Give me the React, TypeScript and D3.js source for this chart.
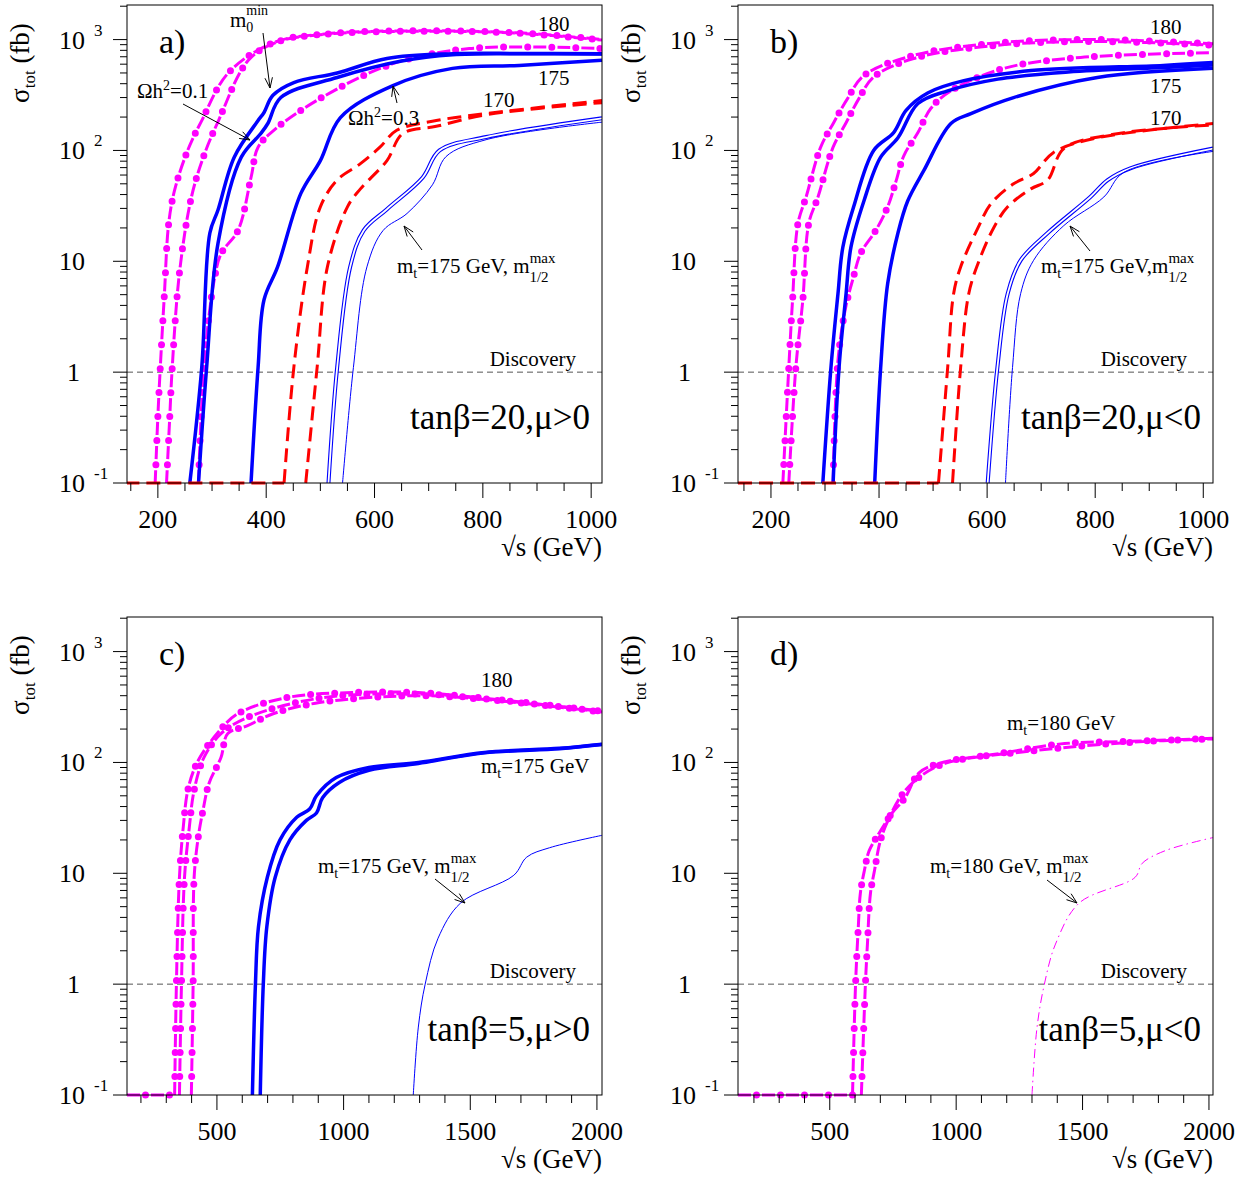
import * as d3 from "d3";

type Pt = [number, number];

// ---- panel a : tanb=20, mu>0 ----
const aMag1: Pt[] = [[195,0.1],[200,0.4],[204,1],[212,5],[220,22],[231,44],[255,100],[281,186],[330,500],[414,940],[513,1130],[683,1200],[867,1150],[1020,1000]];
const aMag2: Pt[] = [[216,0.1],[222,0.4],[226,1],[240,8],[262,38],[285,90],[312,186],[367,650],[420,950],[513,1120],[683,1190],[867,1140],[1020,990]];
const aMag3: Pt[] = [[275,0.1],[286,1.28],[305,7.2],[317,11.8],[348,19],[372,57],[385,107],[414,152],[500,295],[634,606],[775,830],[1020,830]];
const aBlue1: Pt[] = [[259,0.1],[281,1.1],[296,18],[311,29],[341,87],[385,186],[396,220],[412,313],[451,410],[531,500],[623,675],[744,745],[867,750],[1020,745]];
const aBlue2: Pt[] = [[275,0.1],[290,1.1],[311,14.5],[354,87],[390,142],[403,175],[427,300],[531,455],[650,640],[744,730],[867,745],[1020,740]];
const aBlue3: Pt[] = [[372,0.1],[385,1.1],[396,4.5],[421,8.9],[464,41],[500,81],[537,198],[634,385],[744,550],[867,585],[1020,650]];
const aRedBase: Pt[] = [[140,0.1],[433,0.1]];
const aRed1: Pt[] = [[433,0.1],[451,1.1],[476,8.9],[500,31],[531,54],[574,76],[610,107],[641,152],[714,186],[806,215],[1020,282]];
const aRed2: Pt[] = [[473,0.1],[494,1.1],[513,8.9],[550,31],[574,45],[623,81],[652,142],[714,165],[806,210],[1020,270]];
const aThin1: Pt[] = [[515,0.1],[531,1.1],[555,8.9],[580,19],[623,29.5],[689,57],[720,100],[806,132],[1020,195]];
const aThin2: Pt[] = [[541,0.1],[561,1.1],[586,8.9],[616,19],[660,27],[707,49],[732,88],[806,125],[1020,180]];

// ---- panel b : tanb=20, mu<0 ----
const bMag1: Pt[] = [[222,0.1],[233,1.1],[240,4.5],[250,22],[265,38],[292,107],[316,178],[342,295],[372,475],[464,720],[620,935],[804,1000],[1018,915]];
const bMag2: Pt[] = [[233,0.1],[246,1.1],[259,4.5],[270,22],[287,38],[315,107],[339,178],[363,295],[390,460],[464,675],[620,890],[804,960],[1018,890]];
const bMag3: Pt[] = [[315,0.1],[324,1.28],[339,4],[352,7],[366,11.8],[394,19],[416,31],[431,52],[446,90],[472,145],[496,240],[533,345],[631,550],[773,690],[1018,760]];
const bBlue1: Pt[] = [[296,0.1],[311,1.1],[324,5.1],[333,13.4],[353,31],[390,100],[427,145],[450,230],[490,330],[557,426],[681,525],[926,585],[1018,620]];
const bBlue2: Pt[] = [[315,0.1],[326,1.1],[339,5.1],[348,13.4],[372,35],[403,87],[435,130],[472,265],[527,345],[620,440],[750,510],[926,560],[1018,590]];
const bBlue3: Pt[] = [[392,0.1],[403,1.1],[416,6.3],[435,18],[453,35],[483,66],[533,175],[570,215],[649,300],[804,455],[1018,550]];
const bRedBase: Pt[] = [[139,0.1],[510,0.1]];
const bRed1: Pt[] = [[510,0.1],[527,1.1],[538,5.1],[551,8.9],[583,20],[607,33],[649,50],[686,62],[723,96],[804,130],[1018,175]];
const bRed2: Pt[] = [[536,0.1],[551,1.1],[566,5.1],[583,9.5],[612,20],[638,31],[681,45],[712,54],[742,104],[834,140],[1018,170]];
const bThin1: Pt[] = [[601,0.1],[619,1.1],[638,5.1],[662,10.2],[712,18],[791,38],[823,54],[865,69],[1018,104]];
const bThin2: Pt[] = [[634,0.1],[647,1.1],[662,5.1],[686,10.2],[742,21],[816,38],[852,63],[1018,98]];

// ---- panel c : tanb=5, mu>0 ----
const cMagBase: Pt[] = [[145,0.1],[333,0.1]];
const cMag1: Pt[] = [[333,0.1],[340,1],[352,9.2],[367,26],[387,59],[426,104],[504,186],[582,275],[777,385],[1034,427],[1295,427],[1556,380],[2020,290]];
const cMag2: Pt[] = [[352,0.1],[360,1],[372,9.2],[391,26],[410,56],[449,111],[516,182],[621,255],[905,380],[1295,415],[1556,375],[2020,288]];
const cMag3: Pt[] = [[399,0.1],[406,1],[410,9.2],[426,21],[445,37],[469,65],[516,111],[543,182],[621,215],[722,275],[905,347],[1295,400],[1556,370],[2020,285]];
const cBlue1: Pt[] = [[640,0.1],[652,1],[664,3.3],[699,9.2],[749,20],[815,32],[866,38],[893,50],[971,73],[1100,90],[1295,100],[1556,123],[1852,134],[2020,146]];
const cBlue2: Pt[] = [[671,0.1],[683,1],[697,3.3],[730,9.2],[788,20],[853,30],[893,35],[917,48],[983,66],[1100,85],[1295,98],[1556,122],[1852,133],[2020,145]];
const cThin: Pt[] = [[1275,0.1],[1295,0.41],[1322,1],[1373,2.6],[1462,5.4],[1672,9.6],[1723,14],[1813,17],[2020,22]];

// ---- panel d : tanb=5, mu<0 ----
const dMagBase: Pt[] = [[137,0.1],[590,0.1]];
const dMag1: Pt[] = [[590,0.1],[602,1],[613,3.3],[621,6.6],[637,10.6],[656,16],[695,23],[747,35],[798,48],[852,80],[931,98],[1168,120],[1429,148],[1694,155],[2016,165]];
const dMag2: Pt[] = [[625,0.1],[641,1],[649,2.3],[661,6.6],[677,10.6],[701,20],[736,32],[788,52],[852,73],[956,98],[1300,127],[1694,152],[2016,163]];
const dThin: Pt[] = [[1300,0.1],[1320,0.41],[1349,1],[1393,2.3],[1487,5.4],[1708,9.2],[1736,12.3],[1827,16],[2016,21]];

const xTicksA = [200, 400, 600, 800, 1000];
const xTicksC = [500, 1000, 1500, 2000];
const yTicks = [0.1, 1, 10, 100, 1000];

const FONT = "'Liberation Serif', 'Times New Roman', serif";
const MAG = "#ff00ff";
const BLUE = "#0000ff";
const RED = "#ff0000";

type Style = "mag" | "blue" | "red" | "thin" | "double" | "dashdot";
type Curve = { pts: Pt[]; style: Style; flat?: boolean };

const MtLabel = ({ x, y, mt }: { x: number; y: number; mt: string }) => (
  <text x={x} y={y} fontSize={21} fontFamily={FONT}>
    m<tspan fontSize={14} dy={5}>t</tspan>
    <tspan dy={-5}>={mt}</tspan>
  </text>
);

const MaxLabel = ({ x, y, mt, gap = true }: { x: number; y: number; mt: string; gap?: boolean }) => (
  <text x={x} y={y} fontSize={21} fontFamily={FONT}>
    m<tspan fontSize={14} dy={5}>t</tspan>
    <tspan dy={-5}>={mt} GeV,{gap ? " " : ""}m</tspan>
    <tspan fontSize={15} dy={-10}>max</tspan>
    <tspan fontSize={15} dx={-26} dy={19}>1/2</tspan>
  </text>
);

const Arrow = ({ x1, y1, x2, y2 }: { x1: number; y1: number; x2: number; y2: number }) => {
  const a = Math.atan2(y2 - y1, x2 - x1);
  const L = 11;
  const p1 = [x2 - L * Math.cos(a - 0.35), y2 - L * Math.sin(a - 0.35)];
  const p2 = [x2 - L * Math.cos(a + 0.35), y2 - L * Math.sin(a + 0.35)];
  return (
    <g stroke="#000" strokeWidth={1} fill="none">
      <line x1={x1} y1={y1} x2={x2} y2={y2} />
      <polyline points={`${p1[0]},${p1[1]} ${x2},${y2} ${p2[0]},${p2[1]}`} />
    </g>
  );
};

const Panel = ({
  id, left, top, xDomain, xTicks, minorStep, curves, letter, tanLabel, children,
}: {
  id: string; left: number; top: number; xDomain: [number, number]; xTicks: number[];
  minorStep: number; curves: Curve[]; letter: string; tanLabel: string; children?: any;
}) => {
  const w = 475;
  const h = 478;
  const x = d3.scaleLinear().domain(xDomain).range([left, left + w]);
  const y = d3.scaleLog().domain([0.1, Math.pow(10, 3.312)]).range([top + h, top]);
  const smooth = d3.line<Pt>().x((d) => x(d[0])).y((d) => y(d[1])).curve(d3.curveCatmullRom.alpha(0.5));
  const straight = d3.line<Pt>().x((d) => x(d[0])).y((d) => y(d[1]));
  const minorX = d3.range(Math.ceil(xDomain[0] / minorStep) * minorStep, xDomain[1], minorStep);
  const minorY: number[] = [];
  for (let e = -1; e <= 3; e++) for (let k = 1; k <= 9; k++) {
    const v = k * Math.pow(10, e);
    if (y(v) >= top) minorY.push(v);
  }
  const sup: Record<number, string> = { 0.1: "-1", 100: "2", 1000: "3" };

  return (
    <g fontFamily={FONT}>
      <defs>
        <clipPath id={id}>
          <rect x={left} y={top} width={w} height={h + 5} />
        </clipPath>
      </defs>
      <g clipPath={`url(#${id})`}>
        <line x1={left} x2={left + w} y1={y(1)} y2={y(1)} stroke="#555" strokeDasharray="6 4" />
        {curves.map((c, i) => {
          const d = (c.flat ? straight : smooth)(c.pts)!;
          if (c.style === "mag")
            return (
              <g key={i} fill="none" stroke={MAG}>
                <path d={d} strokeWidth={3} strokeDasharray="13 11" />
                <path d={d} strokeWidth={7} strokeDasharray="0 24" strokeDashoffset={-18.5} strokeLinecap="round" />
              </g>
            );
          if (c.style === "blue") return <path key={i} d={d} fill="none" stroke={BLUE} strokeWidth={3.5} />;
          if (c.style === "red") return <path key={i} d={d} fill="none" stroke={RED} strokeWidth={3} strokeDasharray="14 7" />;
          if (c.style === "thin") return <path key={i} d={d} fill="none" stroke={BLUE} strokeWidth={1} />;
          if (c.style === "dashdot") return <path key={i} d={d} fill="none" stroke={MAG} strokeWidth={1} strokeDasharray="9 4 1.5 4" />;
          return (
            <g key={i} fill="none">
              <path d={d} stroke={BLUE} strokeWidth={4} />
              <path d={d} stroke="#fff" strokeWidth={1.8} />
            </g>
          );
        })}
      </g>
      <rect x={left} y={top} width={w} height={h} fill="none" stroke="#000" strokeWidth={1} />
      {minorY.map((v, i) => (
        <line key={i} x1={left} x2={left - (yTicks.includes(v) ? 14 : 7)} y1={y(v)} y2={y(v)} stroke="#000" />
      ))}
      {yTicks.map((v) => (
        <text key={v} y={y(v) + 9} fontSize={26}>
          <tspan x={left - (v === 1 ? 47 : 42)} textAnchor="end">{v === 1 ? "1" : "10"}</tspan>
          {sup[v] && <tspan x={left - 33} dy={-13} fontSize={17}>{sup[v]}</tspan>}
        </text>
      ))}
      {minorX.map((v, i) => (
        <line key={i} x1={x(v)} x2={x(v)} y1={top + h} y2={top + h + (xTicks.includes(v) ? 15 : 8)} stroke="#000" />
      ))}
      {xTicks.map((v) => (
        <text key={v} x={x(v)} y={top + h + 45} fontSize={26} textAnchor="middle">{v}</text>
      ))}
      <text x={left + w} y={top + h + 73} fontSize={27} textAnchor="end">√s (GeV)</text>
      <text transform={`translate(${left - 98},${top + 58}) rotate(-90)`} fontSize={27} textAnchor="middle">
        σ<tspan fontSize={17} dy={6}>tot</tspan><tspan dy={-6}> (fb)</tspan>
      </text>
      <text x={left + 32} y={top + 48} fontSize={34}>{letter}</text>
      <text x={left + w - 12} y={top + 424} fontSize={35} textAnchor="end">{tanLabel}</text>
      <text x={left + w - 26} y={y(1) - 6} fontSize={21} textAnchor="end">Discovery</text>
      {children}
    </g>
  );
};

export default function App() {
  return (
    <svg width={1253} height={1178} style={{ position: "absolute", left: 0, top: 0, display: "block" }}>
      <rect width={1253} height={1178} fill="#fff" />
      <Panel id="pa" left={127} top={5} xDomain={[143, 1020]} xTicks={xTicksA} minorStep={50} letter="a)" tanLabel="tanβ=20,μ>0"
        curves={[
          { pts: aMag1, style: "mag" }, { pts: aMag2, style: "mag" }, { pts: aMag3, style: "mag" },
          { pts: aBlue1, style: "blue" }, { pts: aBlue2, style: "blue" }, { pts: aBlue3, style: "blue" },
          { pts: aRedBase, style: "red", flat: true }, { pts: aRed1, style: "red" }, { pts: aRed2, style: "red" },
          { pts: aThin1, style: "double" }, { pts: aThin2, style: "thin" },
        ]}>
        <text x={538} y={31} fontSize={21}>180</text>
        <text x={538} y={85} fontSize={21}>175</text>
        <text x={483} y={107} fontSize={21}>170</text>
        <text x={230} y={27} fontSize={21}>m<tspan fontSize={14} dy={5}>0</tspan><tspan fontSize={14} dx={-7} dy={-17}>min</tspan></text>
        <Arrow x1={263} y1={33} x2={270} y2={88} />
        <text x={137} y={98} fontSize={21}>Ωh<tspan fontSize={14} dy={-8}>2</tspan><tspan dy={8}>=0.1</tspan></text>
        <Arrow x1={183} y1={104} x2={250} y2={140} />
        <text x={348} y={125} fontSize={21}>Ωh<tspan fontSize={14} dy={-8}>2</tspan><tspan dy={8}>=0.3</tspan></text>
        <Arrow x1={397} y1={103} x2={393} y2={86} />
        <MaxLabel x={397} y={273} mt="175" />
        <Arrow x1={422} y1={250} x2={404} y2={226} />
      </Panel>
      <Panel id="pb" left={738} top={5} xDomain={[139, 1018]} xTicks={xTicksA} minorStep={50} letter="b)" tanLabel="tanβ=20,μ<0"
        curves={[
          { pts: bMag1, style: "mag" }, { pts: bMag2, style: "mag" }, { pts: bMag3, style: "mag" },
          { pts: bBlue1, style: "blue" }, { pts: bBlue2, style: "blue" }, { pts: bBlue3, style: "blue" },
          { pts: bRedBase, style: "red", flat: true }, { pts: bRed1, style: "red" }, { pts: bRed2, style: "red" },
          { pts: bThin1, style: "double" }, { pts: bThin2, style: "thin" },
        ]}>
        <text x={1150} y={34} fontSize={21}>180</text>
        <text x={1150} y={93} fontSize={21}>175</text>
        <text x={1150} y={125} fontSize={21}>170</text>
        <MaxLabel x={1041} y={273} mt="175" gap={false} />
        <Arrow x1={1090} y1={251} x2={1070} y2={226} />
      </Panel>
      <Panel id="pc" left={127} top={617} xDomain={[145, 2020]} xTicks={xTicksC} minorStep={100} letter="c)" tanLabel="tanβ=5,μ>0"
        curves={[
          { pts: cMagBase, style: "mag", flat: true },
          { pts: cMag1, style: "mag" }, { pts: cMag2, style: "mag" }, { pts: cMag3, style: "mag" },
          { pts: cBlue1, style: "blue" }, { pts: cBlue2, style: "blue" },
          { pts: cThin, style: "thin" },
        ]}>
        <text x={481} y={687} fontSize={21}>180</text>
        <MtLabel x={481} y={773} mt="175 GeV" />
        <MaxLabel x={318} y={873} mt="175" />
        <Arrow x1={435} y1={879} x2={465} y2={903} />
      </Panel>
      <Panel id="pd" left={738} top={617} xDomain={[137, 2016]} xTicks={xTicksC} minorStep={100} letter="d)" tanLabel="tanβ=5,μ<0"
        curves={[
          { pts: dMagBase, style: "mag", flat: true },
          { pts: dMag1, style: "mag" }, { pts: dMag2, style: "mag" },
          { pts: dThin, style: "dashdot" },
        ]}>
        <MtLabel x={1007} y={730} mt="180 GeV" />
        <MaxLabel x={930} y={873} mt="180" />
        <Arrow x1={1047} y1={880} x2={1077} y2={903} />
      </Panel>
    </svg>
  );
}
